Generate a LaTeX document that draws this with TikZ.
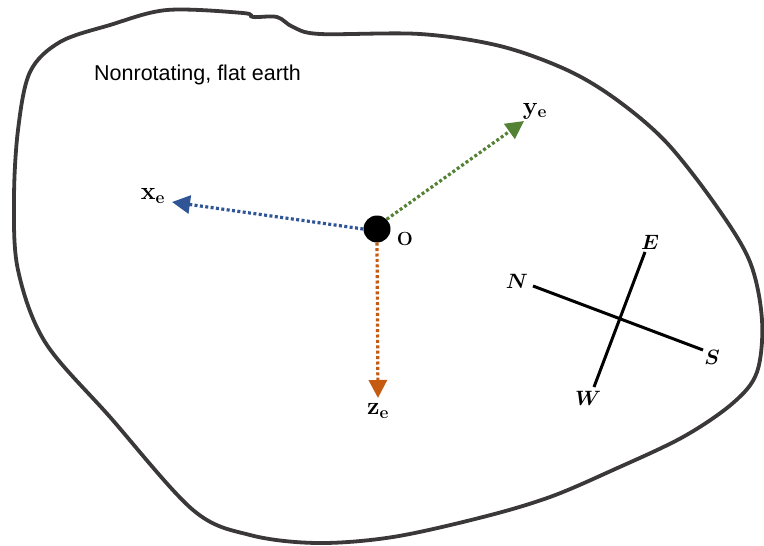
\documentclass[tikz,border=0pt]{standalone}
\usepackage{fontspec}
\newfontfamily\arialfont{Liberation Sans}
\usetikzlibrary{arrows.meta}
\definecolor{outline}{HTML}{3A3838}
\definecolor{xblue}{HTML}{2F5597}
\definecolor{ygreen}{HTML}{548235}
\definecolor{zorange}{HTML}{C55A11}
\tikzset{
  axisline/.style={line width=3.2pt, dash pattern=on 3pt off 2.4pt, -{Triangle[length=18pt,width=18pt]}},
  axislabel/.style={font=\fontsize{24}{26}\selectfont\boldmath, inner sep=0pt},
  compassline/.style={line width=3pt, black},
  compasslabel/.style={font=\fontsize{22}{24}\selectfont\boldmath, inner sep=0pt},
}
\begin{document}
\begin{tikzpicture}[x=1pt,y=-1pt]
\useasboundingbox (0,0) rectangle (764,546);
% outline
\draw[outline, line width=3.8pt] plot[smooth cycle, tension=0.55] coordinates {
 (320,34) (420,34) (500,46) (567,70) (617,100) (667,143) (717,207) (750,262)
 (762,320) (757,372) (733,403) (683,437) (613,470) (550,497) (483,517) (393,537)
 (317,543) (250,535) (193,510) (110,417) (45,342) (18,270)
 (14,200) (18,130) (30,72) (60,42) (110,25) (167,10) (243,13) (253,17) (277,17) (293,27)};
% title
\node[font=\arialfont\fontsize{21.5}{24}\selectfont, anchor=west, inner sep=0pt] (title) at (94,75) {Nonrotating, flat earth};
% origin
\node[circle, fill=black, minimum size=27pt, inner sep=0pt] (O) at (377,229) {};
\node[font=\bfseries\fontsize{19}{21}\selectfont, inner sep=0pt] (Olab) at (405,239) {O};
% axes
\coordinate (xt) at (172,202);
\coordinate (yt) at (524,121);
\coordinate (zt) at (378,398);
\draw[axisline, xblue] (O.west) -- (xt);
\draw[axisline, ygreen] (O.north east) -- (yt);
\draw[axisline, zorange] (O.south) -- (zt);
\node[axislabel] (xl) at (153,196) {$\mathbf{x_e}$};
\node[axislabel] (yl) at (535,111) {$\mathbf{y_e}$};
\node[axislabel] (zl) at (378,411) {$\mathbf{z_e}$};
% compass
\coordinate (cN) at (533,286);
\coordinate (cS) at (703,350);
\coordinate (cE) at (645,252);
\coordinate (cW) at (594,387);
\draw[compassline] (cN) -- (cS);
\draw[compassline] (cE) -- (cW);
\node[compasslabel] (Nl) at (517,281) {$N$};
\node[compasslabel] (Sl) at (712,357) {$S$};
\node[compasslabel] (El) at (650,242) {$E$};
\node[compasslabel] (Wl) at (588,398) {$W$};
\end{tikzpicture}
\end{document}
